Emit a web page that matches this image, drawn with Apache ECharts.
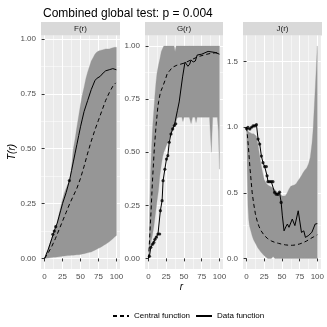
<!DOCTYPE html>
<html><head><meta charset="utf-8">
<script src="https://cdn.jsdelivr.net/npm/echarts@6/dist/echarts.min.js"></script>
<style>html,body{margin:0;padding:0;background:#fff}#c{width:327px;height:327px}</style>
</head><body><div id="c"></div>
<script>
// ---------- data ----------
const panelLabels = ['F(r)', 'G(r)', 'J(r)'];
const xTicks = [0, 25, 50, 75, 100];
const xMinor = [12.5, 37.5, 62.5, 87.5];
const yTicksFG = [0, 0.25, 0.5, 0.75, 1];
const yMinorFG = [0.125, 0.375, 0.625, 0.875];
const yTicksJ = [0, 0.5, 1, 1.5];
const yMinorJ = [0.25, 0.75, 1.25];

// F(r)
const fEnvR = [0,2.5,5,7.5,10,12.5,15,17.5,20,22.5,25,27.5,30,32.5,35,37.5,40,42.5,45,47.5,50,52.5,55,57.5,60,62.5,65,67.5,70,72.5,75,77.5,80,82.5,85,87.5,90,92.5,95,97.5,100];
const fHi = [0,.025,.045,.07,.095,.105,.135,.165,.2,.235,.27,.3,.32,.34,.35,.42,.5,.545,.6,.65,.7,.745,.78,.82,.85,.875,.9,.915,.93,.94,.945,.948,.95,.952,.955,.955,.955,.958,.96,.962,.962];
const fLo = [0,.001,.002,.003,.004,.005,.006,.007,.008,.009,.01,.011,.012,.013,.014,.015,.015,.016,.017,.017,.018,.02,.022,.024,.026,.028,.03,.034,.038,.042,.046,.05,.055,.06,.065,.07,.076,.083,.09,.098,.105];
const fDataR = fEnvR;
const fData = [0,.02,.04,.065,.09,.115,.14,.16,.19,.22,.25,.275,.3,.33,.36,.4,.44,.48,.52,.56,.6,.635,.67,.695,.72,.745,.77,.79,.81,.82,.825,.83,.84,.848,.855,.858,.86,.863,.865,.865,.86];
const fCentR = [0,5,10,15,20,25,30,35,40,45,50,55,60,65,70,75,80,85,90,95,99];
const fCent = [0,.025,.055,.09,.13,.17,.21,.25,.285,.32,.365,.42,.48,.535,.585,.63,.675,.72,.755,.785,.80];
const fOutR = [11.5,13.5,15.5,34.5];
const fOut = [.11,.125,.145,.355];

// G(r)
const gEnvR = [0,1,2,3,4,5,6,7.5,9,10.5,12,14,16,18,20,21.5,25,30,35,36,37.4,39,40,42.5,45,47,48.5,50,52,55,57.5,60,62,64,65.5,67,68.5,70,75,80,84,86,88.5,90.5,92,95,97,98.5,100];
const gHi = [0,.12,.3,.42,.5,.57,.63,.7,.77,.83,.875,.91,.94,.975,.99,1,1,1,1,1,.975,1,1,1,1,1,1,1,1,1,1,1,1,1,1,1,1,1,1,1,1,1,1,1,1,1,1,1,1];
const gLo = [0,.02,.045,.065,.085,.1,.12,.15,.19,.23,.27,.32,.39,.44,.48,.5,.53,.57,.61,.62,.63,.645,.66,.665,.665,.665,.645,.665,.665,.665,.665,.635,.665,.665,.665,.64,.665,.665,.665,.665,.665,.665,.5,.665,.665,.665,.665,.6,.42];
const gDataR = [0,1.3,3.2,5.7,7.5,9,11,13.3,15.7,16.7,19.1,20.5,23,25.3,27.2,29.2,31.6,34,36.4,38.3,40.8,43.2,45.7,48,51.4,53,55.5,58,60,63,66,68.6,75,84,94,100];
const gData = [0,.01,.052,.067,.075,.09,.1,.115,.115,.225,.272,.366,.42,.468,.484,.547,.586,.61,.626,.634,.698,.737,.745,.855,.925,.93,.905,.915,.935,.925,.93,.958,.962,.975,.97,.962];
const gCentR = [0,1,2.2,3.5,4.6,5.8,7,8.2,9.5,10.7,11.9,13,14.3,16,17.7,19.5,21.5,24,26.3,30,33.5,40,50.4,60,69.7,80,86.7,93,100];
const gCent = [0,.06,.138,.22,.3,.38,.45,.52,.578,.63,.67,.71,.74,.77,.79,.805,.814,.845,.87,.885,.9,.91,.92,.935,.95,.96,.965,.968,.97];
const gOutR = [1.3,3.2,5.7,7.5,9,11,13.3,15.7,16.7,19.1,20.5,23,25.3,27.2,29.2,31.6,34,36.4,38.3];
const gOut = [.01,.052,.067,.075,.09,.1,.115,.115,.225,.272,.366,.42,.468,.484,.547,.586,.61,.626,.634];

// J(r)
const jEnvR = [0,0.5,1,2,3,4,5,6,8,10,12.5,14,16,18,20,22.5,25,27.5,30,32.5,35,37.5,40,42.5,45,47.5,50,52.5,55,57.5,60,62.5,65,67.5,70,72.5,75,77.5,80,82.5,85,87.5,90,92.5,94,96.5,98.5,100];
const jHi = [1,.99,.98,.97,.965,.96,.96,.955,.95,.95,.94,.93,.87,.8,.73,.66,.6,.575,.56,.552,.545,.535,.525,.51,.5,.49,.478,.475,.478,.5,.53,.55,.555,.56,.57,.59,.61,.63,.655,.675,.69,.72,.77,.88,.98,1.24,1.45,1.62];
const jLo = [1,.85,.65,.4,.3,.25,.23,.21,.17,.14,.115,.1,.08,.065,.05,.035,.02,.008,0,0,0,.015,0,0,0,0,0,0,0,0,0,0,0,0,0,0,0,0,0,0,0,0,0,0,0,0,0,0];
const jDataR = [0,2,4.7,7,9.3,11.5,14,16.3,18.6,21,23.3,25.6,28,29,30.3,32.6,35,37.3,39.6,41.9,44.3,46.6,48.9,50.5,53,55.5,57.7,60,64.6,68.3,73,77.6,80.9,83.2,87.8,92.4,97,99.4,100];
const jData = [.99,1,.987,1,1.01,1.01,1.02,.91,.872,.78,.73,.7,.7,.63,.585,.585,.585,.585,.503,.49,.488,.505,.427,.33,.21,.24,.262,.237,.3,.25,.363,.198,.21,.16,.175,.2,.262,.27,.265];
const jCentR = [0,1,2.5,4,5,6.5,8,10,12.5,15,17.5,20,25,30,35,40,45,50,55,60,65,70,75,80,85,90,95,100];
const jCent = [1,.95,.86,.75,.68,.59,.5,.42,.34,.285,.245,.215,.175,.15,.133,.122,.115,.108,.103,.1,.1,.103,.11,.12,.133,.15,.165,.18];
const jOutR = [0,2,4.7,7,9.3,11.5,14,16.3,18.6,21,23.3,25.6,28,29,30.3,32.6,35,37.3,39.6,41.9,44.3,46.6,48.9];
const jOut = [.99,1,.987,1,1.01,1.01,1.02,.91,.872,.78,.73,.7,.7,.63,.585,.585,.585,.585,.503,.49,.488,.505,.427];

// ---------- layout ----------
const FONT = 'Liberation Sans, Arial, sans-serif';
const lefts = [41, 145, 243];
const widths = [79, 78, 79];
const TOP = 35.5, H = 233.5;
const yRanges = [[-0.048, 1.016], [-0.05, 1.05], [-0.081, 1.70]];
const yTicks = [yTicksFG, yTicksFG, yTicksJ];
const yMinors = [yMinorFG, yMinorFG, yMinorJ];
const yDec = [2, 2, 1];

const panels = [
  {envR: fEnvR, lo: fLo, hi: fHi, dR: fDataR, d: fData, cR: fCentR, c: fCent, oR: fOutR, o: fOut},
  {envR: gEnvR, lo: gLo, hi: gHi, dR: gDataR, d: gData, cR: gCentR, c: gCent, oR: gOutR, o: gOut},
  {envR: jEnvR, lo: jLo, hi: jHi, dR: jDataR, d: jData, cR: jCentR, c: jCent, oR: jOutR, o: jOut}
];
const zip = (a, b) => a.map((v, i) => [v, b[i]]);

const grids = [], xAxes = [], yAxes = [], series = [], graphics = [];
panels.forEach((p, i) => {
  grids.push({left: lefts[i], top: TOP, width: widths[i], height: H, show: true,
    backgroundColor: '#EBEBEB', borderWidth: 0});
  xAxes.push({type: 'value', gridIndex: i, min: -5, max: 105,
    axisLine: {show: false},
    axisTick: {show: true, length: 3, lineStyle: {color: '#333333', width: 1}, customValues: xTicks},
    axisLabel: {show: true, customValues: xTicks, margin: 4, fontSize: 8, color: '#4D4D4D', fontFamily: FONT},
    splitLine: {show: true, lineStyle: {color: '#FFFFFF', width: 1}}});
  yAxes.push({type: 'value', gridIndex: i, min: yRanges[i][0], max: yRanges[i][1],
    axisLine: {show: false},
    axisTick: {show: true, length: 3, lineStyle: {color: '#333333', width: 1}, customValues: yTicks[i]},
    axisLabel: {show: true, customValues: yTicks[i], margin: 5, fontSize: 8, color: '#4D4D4D', fontFamily: FONT,
      formatter: v => Number(v).toFixed(yDec[i])},
    splitLine: {show: true, lineStyle: {color: '#FFFFFF', width: 1}}});
});
panels.forEach((p, i) => {
  xAxes.push({type: 'value', gridIndex: i, min: -5, max: 105, position: 'top',
    axisLine: {show: false}, axisTick: {show: false, customValues: xMinor}, axisLabel: {show: false},
    splitLine: {show: true, lineStyle: {color: '#FFFFFF', width: 0.5}}});
  yAxes.push({type: 'value', gridIndex: i, min: yRanges[i][0], max: yRanges[i][1], position: 'right',
    axisLine: {show: false}, axisTick: {show: false, customValues: yMinors[i]}, axisLabel: {show: false},
    splitLine: {show: true, lineStyle: {color: '#FFFFFF', width: 0.5}}});
});

panels.forEach((p, i) => {
  series.push({type: 'custom', name: 'envelope' + i, xAxisIndex: i, yAxisIndex: i, silent: true, z: 1,
    data: p.envR.map((r, k) => [r, p.lo[k], p.hi[k]]),
    encode: {x: 0, y: [1, 2]},
    renderItem: (params, api) => {
      if (params.dataIndex !== 0) return null;
      const upper = p.envR.map((r, k) => api.coord([r, p.hi[k]]));
      const lower = p.envR.map((r, k) => api.coord([r, p.lo[k]])).reverse();
      return {type: 'polygon', shape: {points: upper.concat(lower)},
        style: {fill: '#969696', stroke: '#969696', lineWidth: 0.3}};
    }});
  series.push({type: 'line', name: 'Central function', xAxisIndex: i, yAxisIndex: i,
    data: zip(p.cR, p.c), symbol: 'none', itemStyle: {color: '#000'},
    lineStyle: {color: '#000', width: 1, type: [4, 3]}, z: 3});
  series.push({type: 'line', name: 'Data function', xAxisIndex: i, yAxisIndex: i,
    data: zip(p.dR, p.d), symbol: 'none', itemStyle: {color: '#000'},
    lineStyle: {color: '#000', width: 1, type: 'solid'}, z: 4});
  series.push({type: 'scatter', name: 'out' + i, xAxisIndex: i, yAxisIndex: i,
    data: zip(p.oR, p.o), symbol: 'circle', symbolSize: 3.2, itemStyle: {color: '#000'}, z: 5, silent: true});
  graphics.push({type: 'rect', shape: {x: lefts[i], y: 22, width: widths[i], height: 13.5},
    style: {fill: '#D9D9D9'}, silent: true});
  graphics.push({type: 'text', x: lefts[i] + widths[i] / 2, y: 29,
    style: {text: panelLabels[i], fill: '#1A1A1A', font: '8px ' + FONT, align: 'center', verticalAlign: 'middle'}});
});
graphics.push({type: 'text', x: 12, y: 152, rotation: Math.PI / 2,
  style: {text: 'T(r)', fill: '#000', font: 'italic 10px ' + FONT, align: 'center', verticalAlign: 'middle'}});
graphics.push({type: 'text', x: 181.5, y: 287,
  style: {text: 'r', fill: '#000', font: 'italic 10px ' + FONT, align: 'center', verticalAlign: 'middle'}});

const chart = echarts.init(document.getElementById('c'), null, {renderer: 'canvas'});
chart.setOption({
  animation: false,
  textStyle: {fontFamily: FONT},
  title: {text: 'Combined global test: p = 0.004', left: 38, top: 3,
    textStyle: {fontSize: 12, fontWeight: 'normal', color: '#000', fontFamily: FONT}},
  legend: {data: ['Central function', 'Data function'], left: 107, top: 307,
    itemWidth: 16, itemHeight: 8, itemGap: 5, itemStyle: {opacity: 0},
    textStyle: {fontSize: 8, color: '#000', fontFamily: FONT}},
  grid: grids, xAxis: xAxes, yAxis: yAxes, series: series, graphic: graphics
});
</script></body></html>
